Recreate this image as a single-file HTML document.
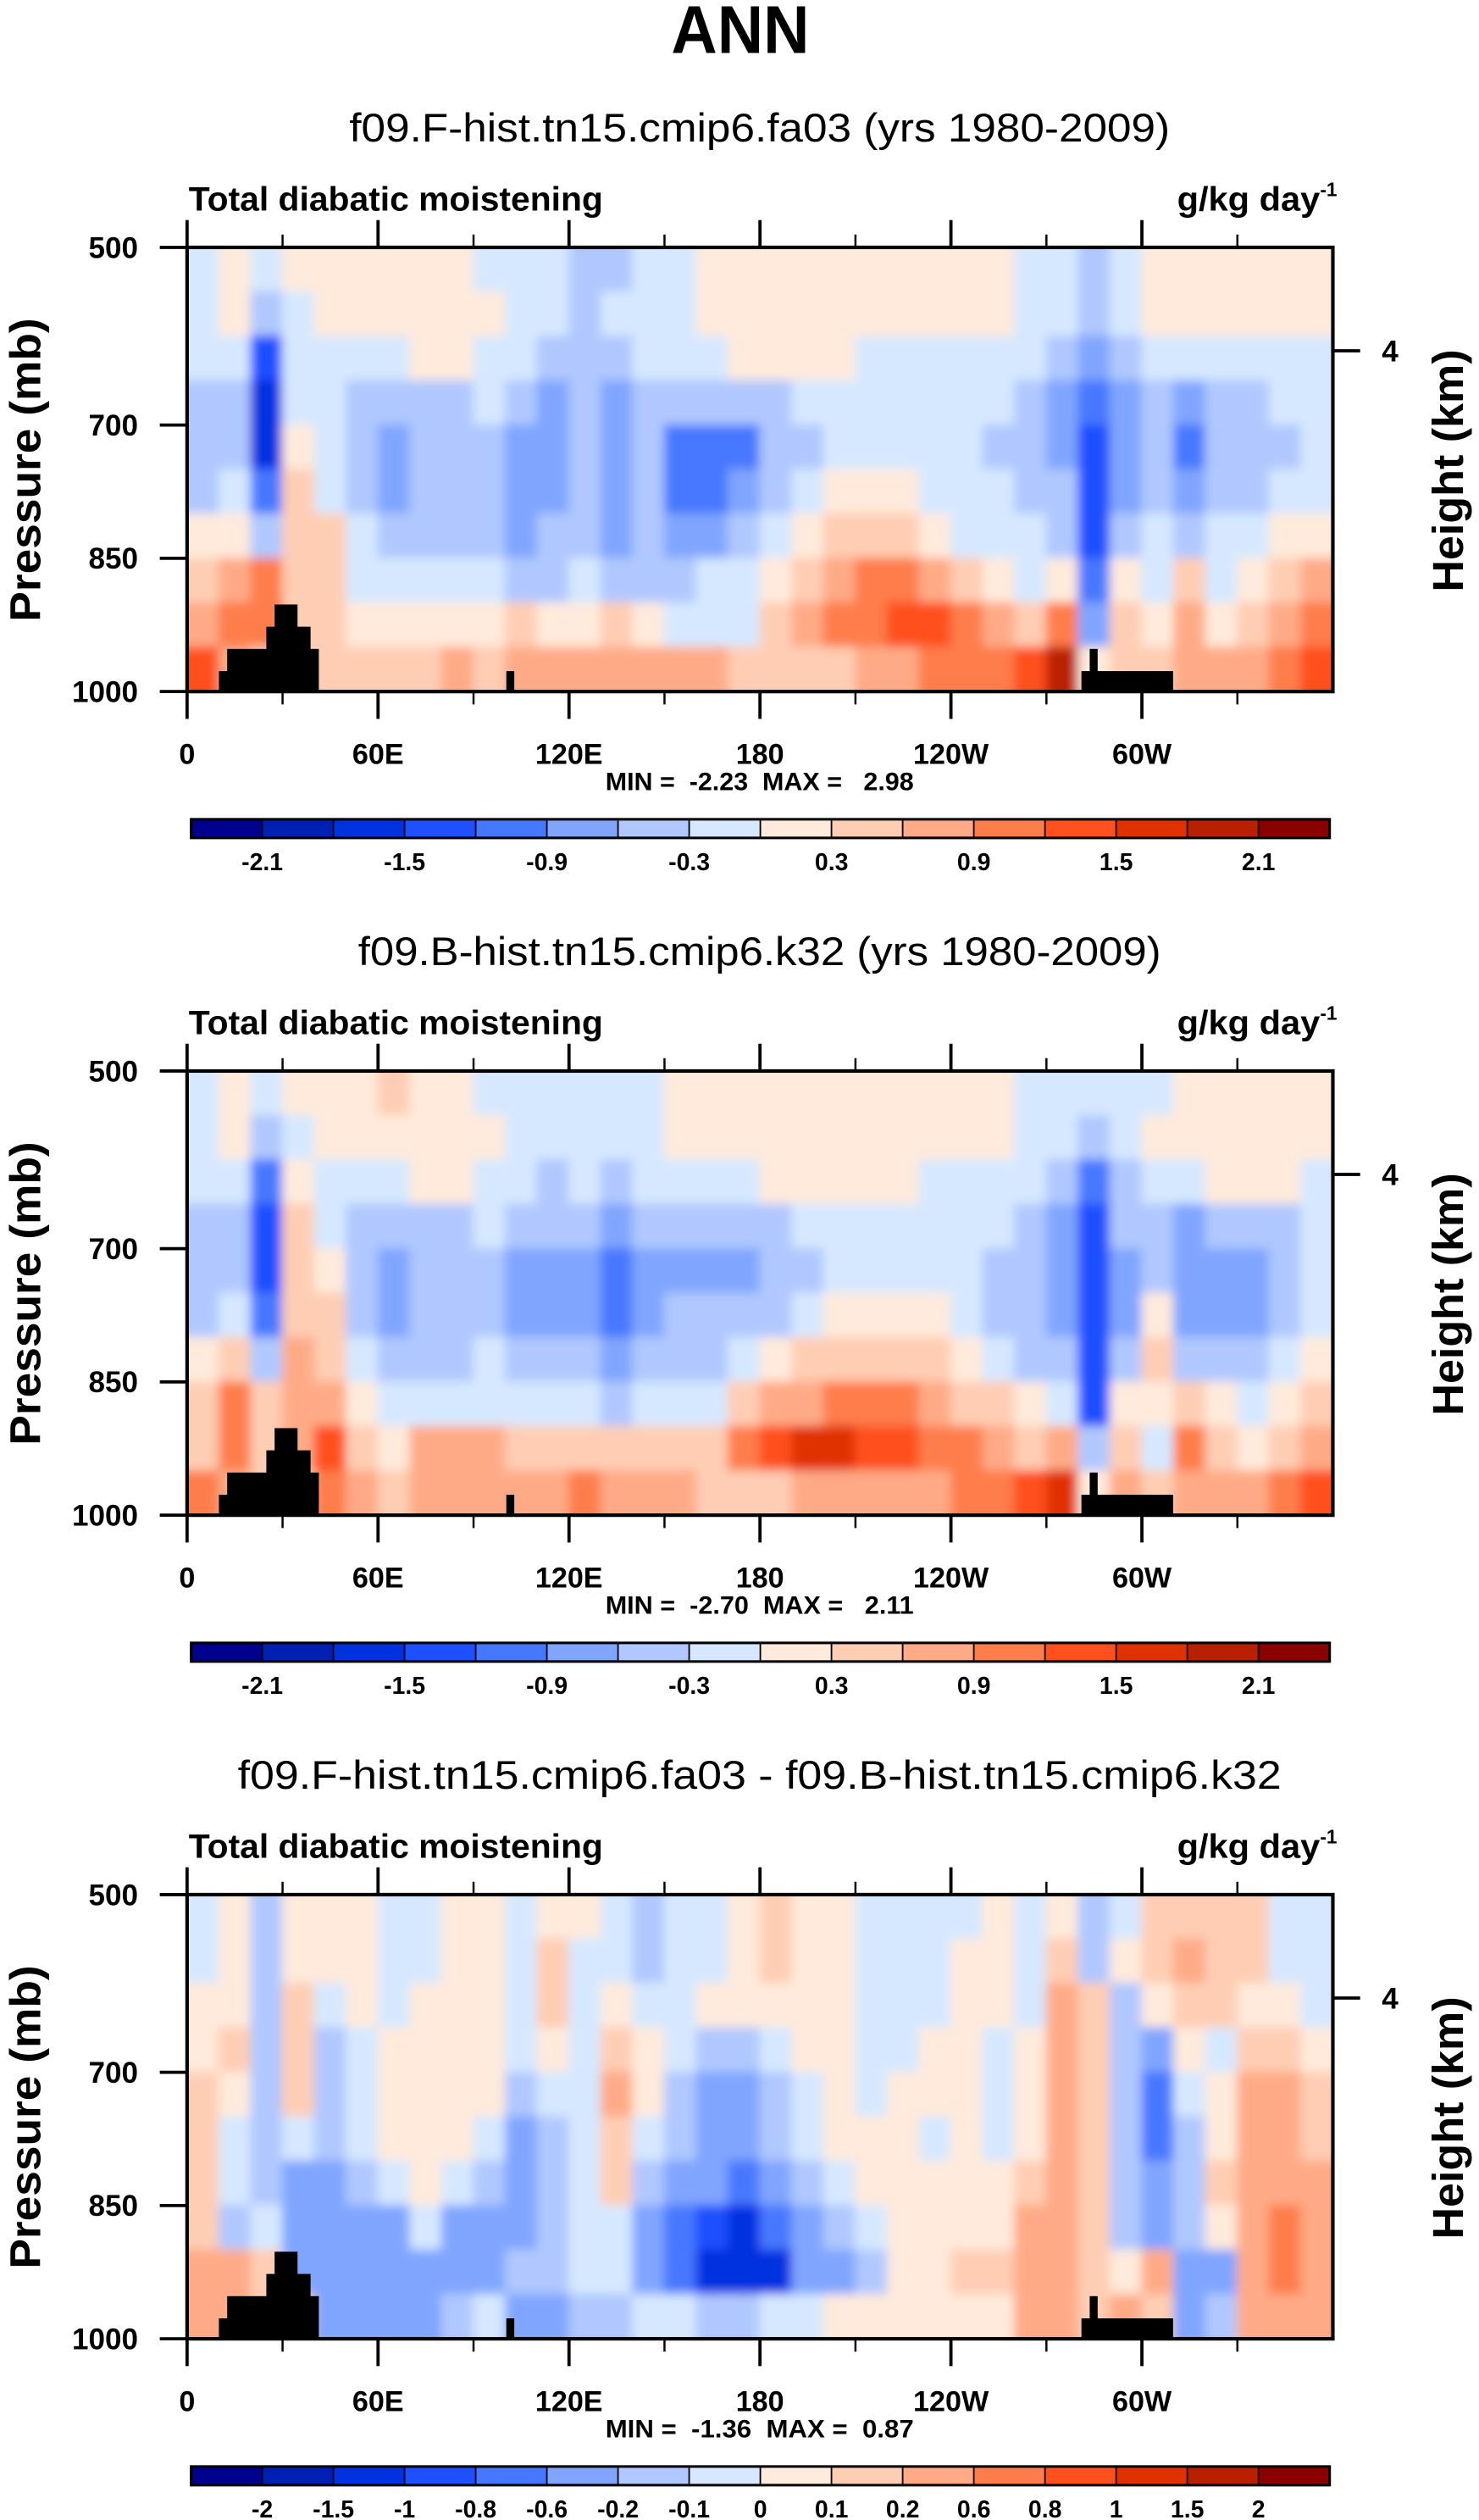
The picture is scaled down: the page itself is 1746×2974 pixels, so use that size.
<!DOCTYPE html>
<html>
<head>
<meta charset="utf-8">
<title>ANN Total diabatic moistening</title>
<style>
html,body{margin:0;padding:0;background:#fff;}
svg{display:block;}
text{font-family:"Liberation Sans",Arial,sans-serif;fill:#000;}
.pre{white-space:pre;}
</style>
</head>
<body>
<svg id="fig" xmlns="http://www.w3.org/2000/svg" width="1746" height="2974" viewBox="0 0 921 1568.7" preserveAspectRatio="none">
  <defs>
    <filter id="soft" filterUnits="userSpaceOnUse" x="0" y="0" width="921" height="1568.7">
      <feGaussianBlur stdDeviation="3.2"/>
    </filter>
  </defs>
  <rect x="0" y="0" width="921" height="1568.7" fill="#fff"/>
  <text x="461" y="33" font-size="42" font-weight="bold" text-anchor="middle" textLength="86" lengthAdjust="spacingAndGlyphs">ANN</text>
</svg>
<script>
// ---------- data ----------
const lons = [5,15,25,35,45,55,65,75,85,95,105,115,125,135,145,155,165,175,185,195,205,215,225,235,245,255,265,275,285,295,305,315,325,335,345,355];
const plevs = [525,575,625,675,725,775,825,875,925,975];
const lonTicks = [0,60,120,180,240,300];
const lonTickLabels = ['0','60E','120E','180','120W','60W'];
const lonMinorTicks = [30,90,150,210,270,330];
const presTicks = [500,700,850,1000];
const heightTicksKm = [4];
const levelsA = [-2.1,-1.8,-1.5,-1.2,-0.9,-0.6,-0.3,0,0.3,0.6,0.9,1.2,1.5,1.8,2.1];
const labelsA = ['-2.1','','-1.5','','-0.9','','-0.3','','0.3','','0.9','','1.5','','2.1'];
const levelsB = [-2,-1.5,-1,-0.8,-0.6,-0.2,-0.1,0,0.1,0.2,0.6,0.8,1,1.5,2];
const labelsB = ['-2','-1.5','-1','-0.8','-0.6','-0.2','-0.1','0','0.1','0.2','0.6','0.8','1','1.5','2'];
const topoLonStart = [10.0,12.6,24.9,27.5,34.6,38.7,100.3,281.0,283.6,286.0];
const topoLonEnd   = [12.6,24.9,27.5,34.6,38.7,41.3,102.7,283.6,286.0,309.7];
const topoPres     = [977,952,927,902,927,952,977,977,952,977];
const minmaxText = ['MIN =  -2.23  MAX =   2.98','MIN =  -2.70  MAX =   2.11','MIN =  -1.36  MAX =  0.87'];
const subtitles = ['f09.F-hist.tn15.cmip6.fa03 (yrs 1980-2009)','f09.B-hist.tn15.cmip6.k32 (yrs 1980-2009)','f09.F-hist.tn15.cmip6.fa03 - f09.B-hist.tn15.cmip6.k32'];

const fieldF = [
[-.15,.15,-.3,.1,.15,.15,.15,.15,.15,-.15,-.15,-.15,-.4,-.35,-.15,-.15,.15,.15,.15,.15,.15,.15,.15,.15,.15,.15,-.1,-.15,-.35,-.15,.15,.15,.15,.15,.15,.15],
[-.15,.15,-.6,-.15,.15,.15,.15,.15,.15,.1,-.15,-.15,-.4,-.3,-.15,-.15,.15,.15,.15,.15,.15,.15,.15,.15,.15,.1,-.15,-.3,-.5,-.2,.1,.15,.15,.15,.15,.15],
[-.15,-.3,-1.3,-.1,-.15,-.15,-.15,.1,.1,-.15,-.3,-.4,-.4,-.35,-.15,-.15,-.15,.1,.1,.1,.1,-.15,-.15,-.15,-.15,-.15,-.2,-.5,-.9,-.5,-.15,-.15,-.15,-.15,-.15,-.15],
[-.4,-.5,-1.6,-.1,-.15,-.4,-.5,-.45,-.35,-.3,-.6,-.8,-.5,-.7,-.5,-.45,-.45,-.4,-.35,-.15,-.15,-.15,-.15,-.15,-.15,-.3,-.4,-.7,-1.2,-.7,-.45,-.7,-.45,-.35,-.15,-.15],
[-.45,-.5,-1.6,.2,-.15,-.45,-.75,-.45,-.45,-.45,-.9,-.8,-.5,-.8,-.6,-1.0,-1.05,-1.0,-.5,-.35,-.15,-.15,-.15,-.15,-.15,-.45,-.5,-.75,-1.3,-.8,-.5,-1.0,-.5,-.6,-.4,-.15],
[-.4,-.3,-1.1,.3,-.1,-.45,-.75,-.45,-.45,-.45,-.8,-.8,-.45,-.9,-.6,-1.05,-1.05,-.9,-.45,-.2,.1,.15,.1,-.15,-.15,-.3,-.45,-.6,-1.3,-.8,-.4,-.9,-.45,-.45,-.2,-.15],
[.1,.2,-.4,.3,.3,-.3,-.6,-.45,-.45,-.45,-.75,-.6,-.4,-.7,-.6,-.9,-.7,-.6,-.3,.1,.45,.45,.4,.15,-.1,-.15,-.3,-.45,-1.3,-.6,-.3,-.5,-.3,-.2,.1,.2],
[.4,.8,.9,.5,.3,-.15,-.3,-.15,-.15,-.2,-.4,-.4,-.3,-.45,-.4,-.45,-.3,-.15,.1,.5,.8,.9,.9,.6,.4,.15,-.1,.1,-1.0,.1,-.15,.3,-.1,.2,.4,.6],
[.6,1.1,1.0,.5,.5,.15,.15,.15,.15,.15,.3,.2,.1,.3,.15,-.1,-.1,-.15,.3,.7,1.0,1.05,1.35,1.3,.9,.7,.5,.9,-.8,.4,.2,.7,.15,.5,.8,1.0],
[1.2,.8,.5,.3,.5,.45,.45,.5,.7,.5,.7,.8,.7,.8,.75,.75,.6,.45,.45,.45,.45,.6,.8,.9,1.05,1.1,1.3,2.0,.2,.4,.4,.6,.6,.8,1.0,1.3]
];
const fieldB = [
[-.15,.15,-.2,.1,.15,.15,.3,.15,.15,-.1,-.15,-.3,-.3,-.3,-.15,.1,.15,.15,.15,.15,.15,.15,.15,.15,.15,.15,-.1,-.15,-.3,-.1,-.15,.15,.15,.15,.15,.15],
[-.15,.15,-.5,-.1,.15,.15,.15,.15,.15,.1,-.15,-.15,-.3,-.2,-.15,.15,.15,.15,.15,.15,.15,.15,.15,.15,.15,.1,-.15,-.2,-.6,-.15,.1,.15,.1,.15,.15,.15],
[-.15,-.3,-1.2,.1,-.15,-.15,-.1,.1,.1,-.15,-.15,-.35,-.3,-.5,-.15,-.15,-.15,-.15,.1,.1,.1,.1,.1,-.15,-.15,-.15,-.2,-.4,-1.0,-.5,-.15,-.15,.1,.1,.1,-.15],
[-.4,-.5,-1.5,.3,-.15,-.35,-.45,-.4,-.35,-.2,-.45,-.6,-.5,-.9,-.5,-.45,-.45,-.4,-.35,-.3,-.15,-.15,-.15,-.15,-.15,-.2,-.4,-.7,-1.3,-.6,-.45,-.7,-.5,-.45,-.35,-.15],
[-.6,-.45,-1.5,.4,.1,-.45,-.75,-.5,-.45,-.45,-.75,-.8,-.75,-1.05,-.75,-.75,-.75,-.75,-.45,-.4,-.15,-.15,-.15,-.15,-.15,-.4,-.5,-.75,-1.4,-.8,-.45,-.7,-.7,-.75,-.45,-.15],
[-.5,-.3,-1.0,.5,.3,-.4,-.75,-.5,-.45,-.4,-.75,-.8,-.7,-1.05,-.7,-.6,-.6,-.45,-.4,-.2,.1,.15,.15,.1,-.15,-.35,-.45,-.75,-1.5,-.7,.2,-.7,-.75,-.75,-.45,-.15],
[.1,.3,-.4,.6,.4,-.3,-.5,-.45,-.4,-.3,-.45,-.6,-.5,-.9,-.5,-.45,-.35,-.2,.1,.3,.45,.45,.45,.3,.1,-.15,-.35,-.5,-1.4,-.5,.3,-.5,-.5,-.5,-.3,.1],
[.45,1.0,.5,.8,.6,.1,-.15,-.3,-.3,-.1,-.3,-.3,-.3,-.5,-.3,-.3,-.15,.3,.6,.8,1.0,1.1,.9,.75,.5,.3,.1,-.15,-1.4,.2,.1,.4,.15,-.15,.2,.5],
[.5,1.1,.3,.8,1.4,.3,.15,.6,.7,.6,.5,.5,.4,.4,.4,.3,.45,1.05,1.3,1.5,1.6,1.4,1.3,1.1,.9,.7,.5,.7,-.5,.4,-.3,.9,.3,.15,.45,.7],
[1.0,.6,.5,.3,1.0,.7,.5,.75,.8,.8,.7,.7,.9,.75,.8,.6,.45,.45,.45,.6,.75,.8,.8,.8,.9,1.05,1.3,1.5,.2,.6,.5,.7,.6,.6,.9,1.3]
];
const fieldDiff = [
[-.05,.05,-.15,.05,.05,.05,-.05,-.05,.05,.05,-.05,.05,.05,-.05,-.15,-.05,-.05,.05,.1,.05,.05,-.05,-.05,-.05,-.05,.05,-.05,.05,-.15,-.05,.1,.15,.15,.1,-.05,-.05],
[-.05,.05,-.15,.05,.05,.05,-.05,-.05,.05,.05,-.05,.1,-.05,-.05,-.15,-.05,-.05,.05,.15,.05,.05,-.05,-.05,-.05,.05,.05,-.05,.1,-.15,.05,.15,.3,.15,.15,-.05,-.05],
[.05,.05,-.15,.1,-.05,.05,-.05,.05,.05,.05,-.05,.1,-.05,.05,-.05,-.05,.05,.05,.05,.05,.05,-.05,-.05,-.05,.05,.05,-.05,.3,.1,-.15,.05,.15,.1,.05,.05,-.05],
[.05,.1,-.15,.1,-.15,-.05,.05,.05,.05,.05,-.1,.05,-.05,.15,.05,-.1,-.15,-.15,-.05,.05,.05,-.05,-.05,.05,.05,-.05,.05,.3,.15,-.15,-.4,.05,-.05,.15,.15,.05],
[.1,.05,-.15,.1,-.15,-.05,.05,.05,.05,.05,-.15,-.05,-.05,.3,.05,-.2,-.4,-.4,-.15,-.05,.05,-.05,.05,.05,.05,-.05,.05,.3,.15,-.15,-.7,-.05,.05,.3,.3,.15],
[.1,-.05,-.2,-.1,-.15,-.05,.05,.05,.05,-.05,-.3,-.15,-.05,.15,-.05,-.15,-.4,-.4,-.2,-.05,.05,.05,.05,-.05,.05,-.05,.05,.3,.15,-.2,-.7,-.15,.05,.3,.3,.15],
[.1,-.1,-.15,-.3,-.4,-.15,-.05,.05,-.05,-.15,-.4,-.15,-.05,.15,-.15,-.4,-.4,-.7,-.4,-.2,-.05,.05,.05,.05,.05,.05,.15,.3,.1,-.2,-.4,-.15,.1,.4,.4,.3],
[.15,-.15,-.1,-.3,-.4,-.4,-.4,-.1,-.3,-.4,-.4,-.2,-.05,-.05,-.3,-.7,-.9,-1.1,-.8,-.4,-.2,-.05,.05,.05,.05,.05,.2,.4,.1,-.15,-.3,-.15,.05,.5,.65,.4],
[.3,.2,.1,-.3,-.5,-.4,-.3,-.4,-.3,-.4,-.15,-.2,-.1,-.05,-.4,-.7,-1.1,-1.2,-1.1,-.6,-.4,-.15,.05,.05,.15,.1,.4,.5,.1,.05,.3,-.3,-.3,.3,.7,.4],
[.4,.2,.1,.1,-.4,-.4,-.3,-.4,-.15,-.05,-.3,-.3,-.15,-.15,-.05,-.05,-.15,-.15,-.1,-.05,.05,.05,.05,.05,.05,.05,.2,.5,.1,.3,.1,-.3,-.15,.2,.3,.4]
];

// ---------- layout / style ----------
const COLORS = ['#00008e','#0020b4','#0032e0','#1e50ff','#4678ff','#80a5ff','#b0c8ff','#d6e8ff',
                '#ffeadb','#ffcdb4','#ffaa86','#ff7d4b','#ff501e','#e03200','#b92000','#8b0000'];
const X0 = 116.5, X1 = 830, Y0 = 154, Y1 = 430.5, DY = 512.7;
const NS = 'http://www.w3.org/2000/svg';
const svg = document.getElementById('fig');

function xOf(lon){ return X0 + lon/360*(X1-X0); }
function yOf(p, off){ return off + Y0 + (p-500)/500*(Y1-Y0); }
function kmToP(z){ return 1013.25*Math.pow(1-2.25577e-5*z*1000, 5.25588); }
function colorFor(v, levels){
  let i = 0;
  while (i < levels.length && v >= levels[i]) i++;
  return COLORS[i];
}
function mk(tag, attrs, parent){
  const e = document.createElementNS(NS, tag);
  for (const k in attrs) e.setAttribute(k, attrs[k]);
  (parent || svg).appendChild(e);
  return e;
}

function drawPanel(k, field, levels, cbLabels){
  const off = k*DY;
  const g = mk('g', {});
  
  

  const st = mk('text', {x:473, y:88+off, 'font-size':25, 'text-anchor':'middle', textLength: (k===2?650:(k===1?500:511)), lengthAdjust:'spacingAndGlyphs'}, g);
  st.textContent = subtitles[k];
  
  

  const lt = mk('text', {x:117.5, y:131+off, 'font-size':21, 'font-weight':'bold', textLength:258, lengthAdjust:'spacingAndGlyphs'}, g);
  lt.textContent = 'Total diabatic moistening';
  
  

  const ut = mk('text', {x:733, y:131+off, 'font-size':21, 'font-weight':'bold', textLength:89, lengthAdjust:'spacingAndGlyphs'}, g);
  ut.textContent = 'g/kg day';
  
  
  const us = mk('text', {x:822, y:122+off, 'font-size':12, 'font-weight':'bold'}, g);
  us.textContent = '-1';
  
  

  const cp = mk('clipPath', {id:'clip'+k}, g);
  mk('rect', {x:X0, y:Y0+off, width:X1-X0, height:Y1-Y0}, cp);

  const holder = mk('g', {'clip-path':'url(#clip'+k+')'}, g);
  
  
  const cells = mk('g', {filter:'url(#soft)'}, holder);
  const dlon = lons[1]-lons[0], dp = plevs[1]-plevs[0];
  for (let r = 0; r < plevs.length; r++){
    for (let c = 0; c < lons.length; c++){
      let xa = xOf(lons[c]-dlon/2), xb = xOf(lons[c]+dlon/2);
      let ya = yOf(plevs[r]-dp/2, off), yb = yOf(plevs[r]+dp/2, off);
      // extend edge cells outward so blur does not fade at the frame
      if (c === 0) xa -= 12;
      if (c === lons.length-1) xb += 12;
      if (r === 0) ya -= 12;
      if (r === plevs.length-1) yb += 12;
      const cell = mk('rect', {x:xa-0.3, y:ya-0.3, width:xb-xa+0.6, height:yb-ya+0.6, fill:colorFor(field[r][c], levels)}, cells);
      
      
    }
  }
  for (let i = 0; i < topoPres.length; i++){
    const xa = xOf(topoLonStart[i]), xb = xOf(topoLonEnd[i]);
    const ya = yOf(topoPres[i], off);
    const t = mk('rect', {x:xa, y:ya, width:xb-xa+0.2, height:Y1+off-ya, fill:'#000'}, holder);
    
    
  }

  const fr = mk('rect', {x:X0, y:Y0+off, width:X1-X0, height:Y1-Y0, fill:'none', stroke:'#000', 'stroke-width':2.2}, g);
  
  

  presTicks.forEach(p => {
    const y = yOf(p, off);
    const tk = mk('line', {x1:X0-17, y1:y, x2:X0, y2:y, stroke:'#000', 'stroke-width':2}, g);
    
    
    const tl = mk('text', {x:86, y:y+6.5, 'font-size':18.5, 'font-weight':'bold', 'text-anchor':'end'}, g);
    tl.textContent = String(p);
    
    
  });
  const ya = mk('text', {x:0, y:0, 'font-size':27, 'font-weight':'bold', 'text-anchor':'middle', textLength:189, lengthAdjust:'spacingAndGlyphs', transform:'translate(25,'+(292.5+off)+') rotate(-90)'}, g);
  ya.textContent = 'Pressure (mb)';
  
  

  heightTicksKm.forEach(z => {
    const y = yOf(kmToP(z), off);
    const tk = mk('line', {x1:X1, y1:y, x2:X1+17, y2:y, stroke:'#000', 'stroke-width':2}, g);
    
    
    const tl = mk('text', {x:860.5, y:y+6.5, 'font-size':18.5, 'font-weight':'bold'}, g);
    tl.textContent = String(z);
    
    
  });
  const ha = mk('text', {x:0, y:0, 'font-size':27, 'font-weight':'bold', 'text-anchor':'middle', textLength:151, lengthAdjust:'spacingAndGlyphs', transform:'translate(911,'+(293+off)+') rotate(-90)'}, g);
  ha.textContent = 'Height (km)';
  
  

  lonTicks.forEach((lon, i) => {
    const x = xOf(lon);
    const tb = mk('line', {x1:x, y1:Y1+off, x2:x, y2:Y1+off+17, stroke:'#000', 'stroke-width':2}, g);
    
    
    const tt = mk('line', {x1:x, y1:Y0+off-17, x2:x, y2:Y0+off, stroke:'#000', 'stroke-width':2}, g);
    
    
    const tl = mk('text', {x:x, y:475.5+off, 'font-size':18, 'font-weight':'bold', 'text-anchor':'middle'}, g);
    tl.textContent = lonTickLabels[i];
    
    
  });
  lonMinorTicks.forEach(lon => {
    const x = xOf(lon);
    const tb = mk('line', {x1:x, y1:Y1+off, x2:x, y2:Y1+off+8, stroke:'#000', 'stroke-width':1.3}, g);
    
    
    const tt = mk('line', {x1:x, y1:Y0+off-8, x2:x, y2:Y0+off, stroke:'#000', 'stroke-width':1.3}, g);
    
    
  });

  const mm = mk('text', {x:473, y:492+off, 'font-size':15.5, 'font-weight':'bold', 'text-anchor':'middle', textLength:192, lengthAdjust:'spacingAndGlyphs', 'class':'pre'}, g);
  mm.textContent = minmaxText[k];
  
  

  const cb = mk('g', {}, g);
  
  
  const cbx0 = 119, cbx1 = 828, cby0 = 510+off, cby1 = 521.6+off;
  const bw = (cbx1-cbx0)/COLORS.length;
  COLORS.forEach((col, i) => {
    const b = mk('rect', {x:cbx0+i*bw, y:cby0, width:bw, height:cby1-cby0, fill:col, stroke:'#000', 'stroke-width':0.9}, cb);
    
    
  });
  mk('rect', {x:cbx0, y:cby0, width:cbx1-cbx0, height:cby1-cby0, fill:'none', stroke:'#000', 'stroke-width':1.6}, cb);
  levels.forEach((lv, i) => {
    if (!cbLabels[i]) return;
    const tl = mk('text', {x:cbx0+(i+1)*bw, y:541.7+off, 'font-size':15, 'font-weight':'bold', 'text-anchor':'middle'}, cb);
    tl.textContent = cbLabels[i];
    
    
  });
}

drawPanel(0, fieldF, levelsA, labelsA);
drawPanel(1, fieldB, levelsA, labelsA);
drawPanel(2, fieldDiff, levelsB, labelsB);
</script>
</body>
</html>
